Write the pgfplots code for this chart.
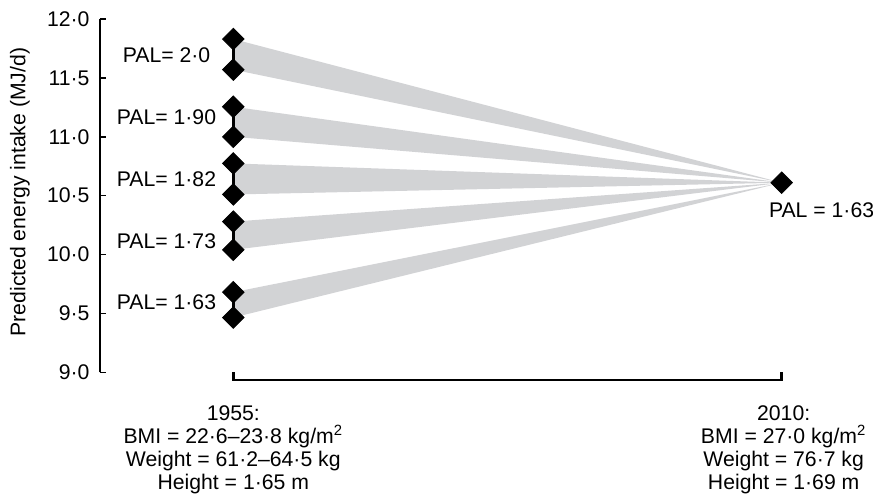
\documentclass[border=0pt]{standalone}
\usepackage{fontspec}
\setmainfont{Liberation Sans}
\usepackage{pgfplots}
\pgfplotsset{compat=1.18}
\definecolor{fan}{RGB}{210,211,213}
\begin{document}
\fontsize{10.6}{12}\selectfont
\begin{tikzpicture}[font=\fontsize{10.6}{11.5}\selectfont]
\begin{axis}[
  at={(0,0)}, anchor=south west,
  scale only axis, width=386.5pt, height=176.65pt,
  xmin=1941.63, xmax=2019.16, ymin=9, ymax=12,
  axis x line=none, axis y line*=left,
  clip=false,
  ytick={9,9.5,10,10.5,11,11.5,12},
  yticklabels={9·0,9·5,10·0,10·5,11·0,11·5,12·0},
  tick align=inside, major tick length=3pt,
  tick style={line width=0.8pt, black},
  axis line style={line width=0.8pt, black},
  yticklabel style={xshift=-1.5pt},
  ylabel={Predicted energy intake (MJ/d)},
  ylabel style={at={(axis description cs:-0.1035,0.51)}, anchor=center},
]
% fans
\addplot[fill=fan, draw=none] coordinates {(1955,11.83) (2010,10.61) (1955,11.57)} -- cycle;
\addplot[fill=fan, draw=none] coordinates {(1955,11.255) (2010,10.61) (1955,11.0)} -- cycle;
\addplot[fill=fan, draw=none] coordinates {(1955,10.774) (2010,10.61) (1955,10.51)} -- cycle;
\addplot[fill=fan, draw=none] coordinates {(1955,10.28) (2010,10.61) (1955,10.04)} -- cycle;
\addplot[fill=fan, draw=none] coordinates {(1955,9.68) (2010,10.61) (1955,9.465)} -- cycle;
% connecting lines
\addplot[black, line width=1.2pt] coordinates {(1955,11.83) (1955,11.57)};
\addplot[black, line width=1.2pt] coordinates {(1955,11.255) (1955,11.0)};
\addplot[black, line width=1.2pt] coordinates {(1955,10.774) (1955,10.51)};
\addplot[black, line width=1.2pt] coordinates {(1955,10.28) (1955,10.04)};
\addplot[black, line width=1.2pt] coordinates {(1955,9.68) (1955,9.465)};
% diamonds
\addplot[only marks, mark=square*, mark size=3.8pt, mark options={rotate=45, fill=black, draw=black}]
  coordinates {(1955,11.83) (1955,11.57) (1955,11.255) (1955,11.0) (1955,10.774) (1955,10.51)
               (1955,10.28) (1955,10.04) (1955,9.68) (1955,9.465) (2010,10.61)};
% bracket
\addplot[black, line width=1.2pt, line join=miter] coordinates {(1955,9.0) (1955,8.935) (2010,8.935) (2010,9.0)};
% labels
\node at (axis cs:1948.3,11.69) {PAL= 2·0};
\node at (axis cs:1948.3,11.163) {PAL= 1·90};
\node at (axis cs:1948.3,10.639) {PAL= 1·82};
\node at (axis cs:1948.3,10.115) {PAL= 1·73};
\node at (axis cs:1948.3,9.595) {PAL= 1·63};
\node at (axis cs:2014.0,10.38) {PAL = 1·63};
\node[anchor=north, inner sep=0pt, align=center] at (axis cs:1955,8.722)
  {1955:\\BMI = 22·6–23·8 kg/m\textsuperscript{2}\\Weight = 61·2–64·5 kg\\Height = 1·65 m};
\node[anchor=north, inner sep=0pt, align=center] at (axis cs:2010.2,8.722)
  {2010:\\BMI = 27·0 kg/m\textsuperscript{2}\\Weight = 76·7 kg\\Height = 1·69 m};
\end{axis}
\pgfresetboundingbox
\useasboundingbox (-50pt,-63.85pt) rectangle (386.5pt,186.15pt);
\end{tikzpicture}
\end{document}
